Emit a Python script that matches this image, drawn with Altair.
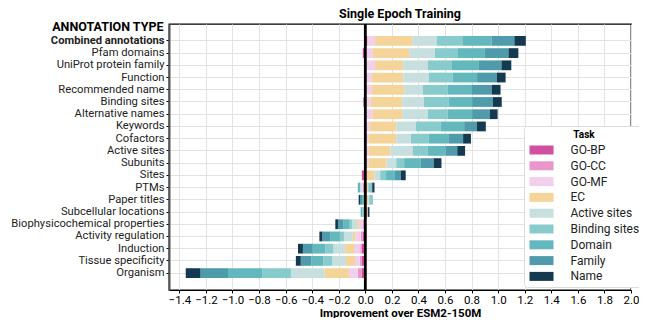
import altair as alt
import pandas as pd

categories = [
    "Combined annotations", "Pfam domains", "UniProt protein family", "Function",
    "Recommended name", "Binding sites", "Alternative names", "Keywords",
    "Cofactors", "Active sites", "Subunits", "Sites", "PTMs", "Paper titles",
    "Subcellular locations", "Biophysicochemical properties", "Activity regulation",
    "Induction", "Tissue specificity", "Organism",
]
tasks = ["GO-BP", "GO-CC", "GO-MF", "EC", "Active sites", "Binding sites", "Domain", "Family", "Name"]
colors = ["#d14fa0", "#e896cc", "#f3cfee", "#f4d499", "#c8dfe0", "#87cbcd", "#62b8bd", "#4f9aab", "#143a52"]

go_bp = [0.016, -0.019, 0.005, 0.004, 0.004, -0.015, 0.004, 0.004, -0.010, -0.010,
         0.004, -0.026, -0.006, -0.003, 0.008, -0.006, -0.019, -0.026, -0.026, -0.026]
go_cc = [0.0, 0.0, 0.0, 0.0, 0.0, 0.0, 0.0, 0.0, 0.0, 0.0,
         0.0, 0.0, -0.012, 0.0, 0.006, -0.015, -0.015, -0.012, -0.015, -0.030]
go_mf = [0.057, 0.056, 0.068, 0.044, 0.044, 0.041, 0.052, 0.029, 0.023, 0.026,
         0.022, 0.011, -0.012, 0.004, 0.0, -0.025, -0.040, -0.047, -0.037, -0.067]
ec = [0.281, 0.274, 0.212, 0.237, 0.244, 0.237, 0.222, 0.200, 0.210, 0.163,
      0.133, 0.057, 0.022, 0.020, 0.005, -0.015, -0.020, -0.067, -0.067, -0.185]
active_sites = [0.183, 0.193, 0.185, 0.193, 0.141, 0.163, 0.193, 0.148, 0.111, 0.170,
                0.074, 0.044, -0.010, 0.005, -0.008, -0.040, -0.067, -0.089, -0.104, -0.252]
binding_sites = [0.193, 0.170, 0.178, 0.178, 0.185, 0.185, 0.148, 0.185, 0.133, 0.111,
                 0.059, 0.044, 0.025, 0.028, -0.015, -0.017, -0.030, -0.059, -0.067, -0.215]
domain = [0.222, 0.207, 0.207, 0.185, 0.185, 0.178, 0.185, 0.178, 0.148, 0.133,
          0.126, 0.067, -0.017, -0.020, -0.012, -0.049, -0.074, -0.096, -0.089, -0.259]
family = [0.170, 0.178, 0.170, 0.148, 0.148, 0.156, 0.133, 0.096, 0.111, 0.089,
          0.096, 0.044, 0.005, -0.015, 0.0, -0.037, -0.059, -0.074, -0.081, -0.207]
name = [0.086, 0.074, 0.074, 0.067, 0.067, 0.067, 0.059, 0.067, 0.059, 0.059,
        0.059, 0.037, 0.017, -0.012, 0.012, -0.022, -0.022, -0.037, -0.037, -0.111]

x_ticks = [-1.4, -1.2, -1.0, -0.8, -0.6, -0.4, -0.2, 0.0, 0.2, 0.4, 0.6, 0.8,
           1.0, 1.2, 1.4, 1.6, 1.8, 2.0]

series = [go_bp, go_cc, go_mf, ec, active_sites, binding_sites, domain, family, name]
rows = []
for i, c in enumerate(categories):
    for j, t in enumerate(tasks):
        rows.append({"category": c, "task": t, "order": j, "value": series[j][i]})
df = pd.DataFrame(rows)

FONT = "Roboto"

x_scale = alt.Scale(domain=[-1.478, 2.0], nice=False, zero=False)
x_axis = alt.Axis(
    values=x_ticks, format=".1f", title="Improvement over ESM2-150M",
    labelFontSize=11.5, labelColor="black", labelFont=FONT, labelOverlap=False,
    labelFlush=False, labelBound=False,
    titleFont=FONT, titleFontSize=11.5, titleFontWeight="bold", titleColor="black",
    titlePadding=1.5, tickColor="black", tickSize=3, domainColor="black",
    grid=True, gridColor="#e3e3e3", labelPadding=1,
)

bars = alt.Chart(df).mark_bar().encode(
    x=alt.X("value:Q", stack="zero", scale=x_scale, axis=x_axis),
    y=alt.Y(
        "category:N", sort=categories,
        scale=alt.Scale(paddingInner=0.2, paddingOuter=0.98),
        axis=alt.Axis(
            title="ANNOTATION TYPE", titleAngle=0, titleAlign="right", titleBaseline="middle",
            titleX=-6, titleY=2, titleFont=FONT, titleFontSize=12.5, titleFontWeight="bold",
            titleColor="black",
            labelFont=FONT, labelFontSize=11.2, labelColor="#222",
            labelFontWeight=alt.condition("datum.value == 'Combined annotations'",
                                          alt.value("bold"), alt.value("normal")),
            tickColor="black", tickSize=3, domainColor="#555", domainWidth=2,
            grid=True, gridColor="#e3e3e3", labelPadding=2,
        ),
    ),
    color=alt.Color(
        "task:N", sort=tasks,
        scale=alt.Scale(domain=tasks, range=colors),
        legend=alt.Legend(
            title="Task", orient="none", legendX=355, legendY=102,
            titleAnchor="middle", titleFont=FONT, titleFontSize=10, titleFontWeight="bold",
            titleColor="black", titlePadding=4,
            labelFont=FONT, labelFontSize=12, labelColor="#222",
            symbolType="M-2.667,-1H2.667V1H-2.667Z", symbolSize=81, symbolStrokeWidth=0,
            symbolOpacity=1, symbolOffset=7.5, labelOffset=23, rowPadding=3.8,
            fillColor="white", strokeColor="#dddddd", cornerRadius=3, padding=4,
        ),
    ),
    order=alt.Order("order:Q", sort="ascending"),
)

zero_line = alt.Chart(pd.DataFrame({"value": [0.0]})).mark_rule(color="black", strokeWidth=2.8).encode(
    x=alt.X("value:Q", scale=x_scale, axis=x_axis)
)

chart = alt.layer(bars, zero_line).properties(
    width=462, height=266,
    title=alt.Title("Single Epoch Training", font=FONT, fontSize=12.5, fontWeight="bold",
                    color="black", offset=0),
    autosize=alt.AutoSizeParams(type="none"),
    padding={"left": 161, "top": 16, "right": 8, "bottom": 28},
).configure_view(stroke="black", strokeWidth=1.3).configure_axisX(labelOverlap=False)

chart.save("out.html", embed_options={"renderer": "svg", "actions": False})
